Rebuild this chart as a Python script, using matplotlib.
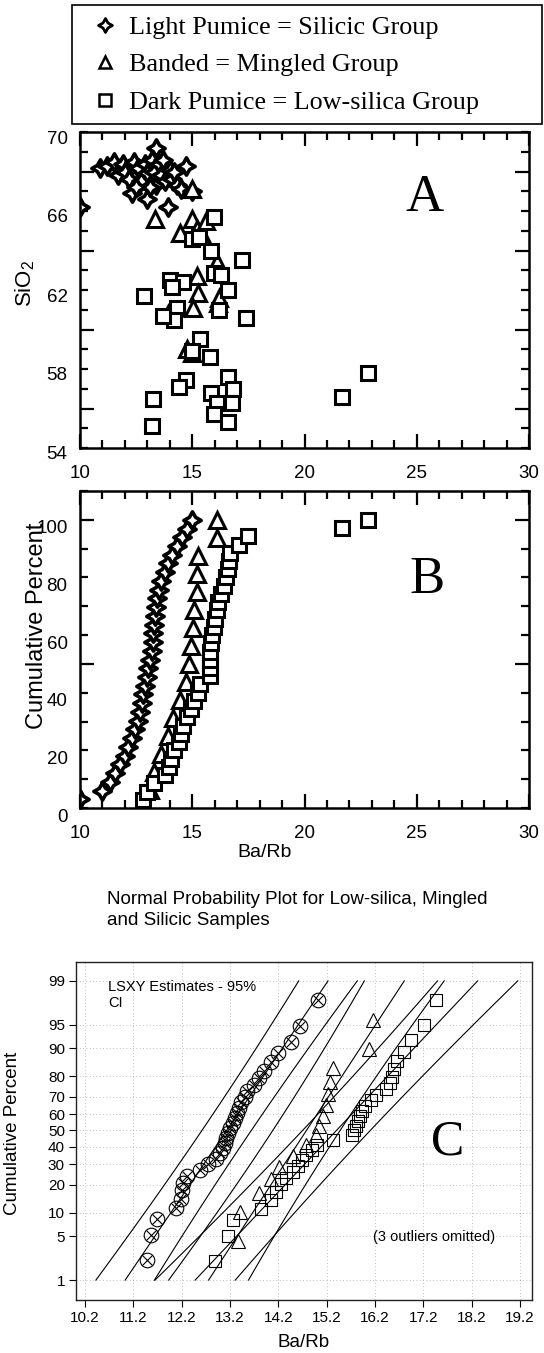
import numpy as np
import matplotlib
matplotlib.use("Agg")
import matplotlib.pyplot as plt
from matplotlib.path import Path
from matplotlib.lines import Line2D
from matplotlib.ticker import FixedLocator, MultipleLocator, FuncFormatter
from matplotlib.transforms import ScaledTranslation
from statistics import NormalDist

plt.rcParams['font.family'] = ['Liberation Sans', 'DejaVu Sans']
SERIF = ['Liberation Serif', 'DejaVu Serif']

# ---- Panel A: SiO2 vs Ba/Rb ----
sil_a_barb = [10.0, 10.9, 11.2, 11.5, 11.7, 11.9, 12.0, 12.2, 12.3, 12.4, 12.6, 12.7, 12.9,
              13.0, 13.0, 13.2, 13.3, 13.4, 13.4, 13.5, 13.6, 13.7, 13.8, 13.9, 14.0, 14.1,
              14.3, 14.5, 14.7, 15.0, 13.1, 12.5, 14.2]
sil_a_sio2 = [66.2, 68.2, 68.3, 68.5, 67.8, 68.4, 68.0, 67.6, 66.9, 68.5, 68.2, 67.5, 68.4,
              66.6, 67.9, 68.6, 68.0, 69.2, 67.3, 68.4, 67.8, 68.6, 67.5, 66.2, 68.1, 67.6,
              67.3, 67.1, 68.3, 67.0, 67.2, 67.2, 68.0]
min_a_barb = [13.34, 15.0, 15.0, 14.45, 15.2, 15.4, 16.1, 15.2, 15.27, 15.05, 16.15, 13.93,
              14.75, 15.0, 15.6, 16.2]
min_a_sio2 = [65.6, 65.6, 67.1, 64.9, 65.1, 64.9, 63.4, 62.7, 61.85, 61.1, 61.35, 60.8,
              59.0, 58.8, 65.5, 61.6]
low_a_barb = [15.95, 14.98, 15.3, 15.85, 17.2, 14.0, 14.6, 15.95, 16.3, 12.83, 14.1, 14.3,
              14.2, 13.7, 16.2, 16.6, 17.4, 15.35, 14.98, 15.8, 14.7, 14.4, 13.25, 13.2,
              16.6, 16.8, 15.85, 16.1, 16.75, 15.95, 16.6, 22.83, 21.67]
low_a_sio2 = [65.7, 64.6, 64.7, 64.0, 63.5, 62.5, 62.4, 62.85, 62.75, 61.7, 62.15, 61.1,
              60.5, 60.7, 61.0, 62.0, 60.6, 59.5, 58.9, 58.6, 57.45, 57.1, 56.5, 55.1,
              57.6, 57.0, 56.8, 56.3, 56.3, 55.7, 55.3, 57.8, 56.6]

# ---- Panel B: sorted Ba/Rb for cumulative percent ----
sil_b = [10.0, 10.98, 11.34, 11.56, 11.78, 12.0, 12.14, 12.3, 12.45, 12.6, 12.67, 12.76,
         12.8, 12.9, 12.98, 13.03, 13.1, 13.2, 13.25, 13.25, 13.3, 13.34, 13.38, 13.43,
         13.5, 13.63, 13.8, 13.93, 14.1, 14.3, 14.54, 14.75, 14.98]
min_b = [13.1, 13.3, 13.6, 13.9, 14.15, 14.45, 14.7, 14.85, 14.95, 15.05, 15.1, 15.2,
         15.2, 15.27, 16.1, 16.1]
low_b = [12.8, 13.0, 13.3, 13.8, 13.95, 14.05, 14.2, 14.4, 14.5, 14.6, 14.75, 14.95,
         15.1, 15.25, 15.35, 15.8, 15.8, 15.8, 15.8, 15.85, 15.9, 15.95, 16.0, 16.1,
         16.15, 16.3, 16.4, 16.5, 16.6, 16.65, 16.7, 17.1, 17.5, 21.67, 22.83]

# ---- Panel C: normal probability plot (3 outliers omitted) ----
sil_c = [11.47, 11.57, 11.68, 12.09, 12.19, 12.2, 12.22, 12.3, 12.57, 12.74, 12.9, 13.0,
         13.05, 13.1, 13.12, 13.15, 13.2, 13.25, 13.3, 13.35, 13.38, 13.42, 13.5, 13.55,
         13.7, 13.8, 13.9, 14.05, 14.2, 14.47, 14.64, 15.02]
min_c = [13.36, 13.4, 13.8, 14.05, 14.22, 14.5, 14.78, 14.98, 15.05, 15.12, 15.19, 15.22,
         15.26, 15.32, 16.08, 16.15]
low_c = [12.88, 13.15, 13.25, 13.85, 14.05, 14.15, 14.26, 14.36, 14.5, 14.6, 14.68, 14.78,
         14.9, 15.0, 15.32, 15.73, 15.77, 15.81, 15.84, 15.88, 15.94, 16.0, 16.12, 16.22,
         16.42, 16.5, 16.56, 16.6, 16.66, 16.8, 16.95, 17.22, 17.47]
c_xticks = [10.2, 11.2, 12.2, 13.2, 14.2, 15.2, 16.2, 17.2, 18.2, 19.2]
c_pticks = [1, 5, 10, 20, 30, 40, 50, 60, 70, 80, 90, 95, 99]

legend_labels = ['Light Pumice = Silicic Group', 'Banded = Mingled Group',
                 'Dark Pumice = Low-silica Group']

nd = NormalDist()

star = Path([(0, 1), (0.36, 0.36), (1, 0), (0.36, -0.36), (0, -1), (-0.36, -0.36),
             (-1, 0), (-0.36, 0.36), (0, 1)], closed=True)


def tick_lengths(axis, long_vals, long_len, short_len):
    for t, loc in zip(axis.get_major_ticks(), axis.get_majorticklocs()):
        size = long_len if any(abs(loc - v) < 1e-6 for v in long_vals) else short_len
        t.tick1line.set_markersize(size)
        t.tick2line.set_markersize(size)


def shift_ylabels(ax, dy_px):
    off = ScaledTranslation(0, -dy_px / 100.0, ax.figure.dpi_scale_trans)
    for lbl in ax.get_yticklabels():
        lbl.set_transform(lbl.get_transform() + off)


def style_top(ax):
    ax.set_xlim(10, 30)
    ax.xaxis.set_major_locator(MultipleLocator(5))
    ax.xaxis.set_minor_locator(MultipleLocator(1))
    ax.tick_params(which='both', direction='in', top=True, right=True, width=1.6,
                   labelsize=13.5)
    ax.tick_params(which='major', length=10)
    ax.tick_params(which='minor', length=5.5)
    ax.tick_params(axis='x', pad=12)
    ax.tick_params(axis='y', pad=9)
    for s in ax.spines.values():
        s.set_linewidth(1.8)


fig = plt.figure(figsize=(5.44, 13.53), dpi=100)

big = dict(family=SERIF, fontsize=38, ha='center', va='center')
pt_star = dict(ls='none', marker=star, ms=12.5, mfc='white', mec='black', mew=2.6)
pt_tri = dict(ls='none', marker='^', ms=11, mfc='white', mec='black', mew=2.2)
pt_sq = dict(ls='none', marker='s', ms=9.5, mfc='white', mec='black', mew=2.2)

# Panel A
axA = fig.add_axes([80 / 544, 1 - 448 / 1353, 449 / 544, 316 / 1353])
axA.plot(sil_a_barb, sil_a_sio2, **pt_star)
axA.plot(min_a_barb, min_a_sio2, **pt_tri)
axA.plot(low_a_barb, low_a_sio2, **pt_sq)
style_top(axA)
axA.set_ylim(54, 70)
axA.yaxis.set_major_locator(FixedLocator(np.arange(54, 71, 2)))
axA.yaxis.set_major_formatter(FuncFormatter(lambda v, p: '%d' % v if (v - 54) % 4 == 0 else ''))
axA.yaxis.set_minor_locator(MultipleLocator(1))
tick_lengths(axA.yaxis, [56, 60, 64, 68], 10, 5.5)
shift_ylabels(axA, 5)
axA.set_ylabel(r'SiO$_\mathregular{2}$', fontsize=16, va='center')
axA.yaxis.set_label_coords(-0.122, 0.52)
axA.text(0.768, 0.791, 'A', transform=axA.transAxes, **big)

# Panel B
axB = fig.add_axes([80 / 544, 1 - 808 / 1353, 449 / 544, 317 / 1353])
for vals, st in ((sil_b, pt_star), (min_b, pt_tri), (low_b, pt_sq)):
    vals = np.sort(vals)
    cum = 100.0 * np.arange(1, len(vals) + 1) / len(vals)
    axB.plot(vals, cum, **st)
style_top(axB)
axB.set_ylim(0, 110)
axB.yaxis.set_major_locator(FixedLocator(np.arange(0, 111, 10)))
axB.yaxis.set_major_formatter(FuncFormatter(lambda v, p: '%d' % v if v % 20 == 0 and v <= 100 else ''))
tick_lengths(axB.yaxis, [50, 100], 10, 5.5)
shift_ylabels(axB, 7)
axB.set_ylabel('Cumulative Percent', fontsize=17, va='center')
axB.yaxis.set_label_coords(-0.096, 0.574)
axB.set_xlabel('Ba/Rb', fontsize=14, va='center')
axB.xaxis.set_label_coords(0.41, -0.139)
axB.text(0.773, 0.719, 'B', transform=axB.transAxes, **big)

# Legend
leg_handles = [Line2D([], [], ls='none', marker=star, ms=10, mfc='white', mec='black', mew=2.0),
               Line2D([], [], ls='none', marker='^', ms=8.5, mfc='white', mec='black', mew=1.8),
               Line2D([], [], ls='none', marker='s', ms=8, mfc='white', mec='black', mew=1.8)]
leg = fig.legend(leg_handles, legend_labels, loc='upper left',
                 bbox_to_anchor=(72 / 544, 1 - 5 / 1353, 470 / 544, 0), mode='expand',
                 frameon=True, fancybox=False, edgecolor='black', framealpha=1,
                 prop={'family': SERIF, 'size': 18.8}, handlelength=1.75,
                 handletextpad=0.05, labelspacing=0.55, borderpad=0.4, borderaxespad=0)
leg.get_frame().set_linewidth(1.2)

# Title of panel C
fig.text(107 / 544, 1 - 910 / 1353, 'Normal Probability Plot for Low-silica, Mingled\nand Silicic Samples',
         fontsize=13.5, ha='left', va='center', linespacing=1.25)

# Panel C
axC = fig.add_axes([76 / 544, 1 - 1300 / 1353, 456 / 544, 338 / 1353])
z_end = nd.inv_cdf(0.99)
zl = np.linspace(-z_end, z_end, 80)
groups = [(sil_c, 'o'), (min_c, '^'), (low_c, 's')]
for vals, mk in groups:
    vals = np.sort(vals)
    n = len(vals)
    z = np.array([nd.inv_cdf((i - 0.3) / (n + 0.4)) for i in range(1, n + 1)])
    slope, icpt = np.polyfit(z, vals, 1)
    fit = icpt + slope * zl
    half = 1.96 * slope * np.sqrt((2.67 + 0.2 * zl ** 2) / n)
    for xs in (fit, fit - half, fit + half):
        axC.plot(xs, zl, color='black', lw=0.8)
    if mk == 'o':
        axC.plot(vals, z, ls='none', marker='o', ms=10.5, mfc='none', mec='black', mew=0.8)
        axC.plot(vals, z, ls='none', marker='x', ms=7.2, mec='black', mew=0.8)
    elif mk == '^':
        axC.plot(vals, z, ls='none', marker='^', ms=9.5, mfc='none', mec='black', mew=0.8)
    else:
        axC.plot(vals, z, ls='none', marker='s', ms=8.3, mfc='none', mec='black', mew=0.8)

axC.set_xlim(10.01, 19.45)
axC.set_ylim(-2.636, 2.62)
axC.set_xticks(c_xticks)
axC.set_xticklabels(['%.1f' % v for v in c_xticks])
axC.set_yticks([nd.inv_cdf(p / 100.0) for p in c_pticks])
axC.set_yticklabels([str(p) for p in c_pticks])
axC.tick_params(direction='out', length=5, width=0.8, labelsize=11, pad=3)
axC.grid(True, color='#aaaaaa', lw=0.6, ls=(0, (1, 3)))
for s in axC.spines.values():
    s.set_linewidth(1.0)
    s.set_color('#222222')
axC.set_ylabel('Cumulative Percent', fontsize=13.5, va='center')
axC.yaxis.set_label_coords(-0.139, 0.494)
axC.set_xlabel('Ba/Rb', fontsize=13.5, va='center')
axC.xaxis.set_label_coords(0.5, -0.127)
axC.text(0.07, 0.947, 'LSXY Estimates - 95%\nCI', transform=axC.transAxes, fontsize=10.5,
         ha='left', va='top', linespacing=1.15)
axC.text(0.651, 0.186, '(3 outliers omitted)', transform=axC.transAxes, fontsize=10.5,
         ha='left', va='center')
axC.text(0.814, 0.467, 'C', transform=axC.transAxes, family=SERIF, fontsize=36,
         ha='center', va='center')

fig.savefig('out.png', dpi=100)
